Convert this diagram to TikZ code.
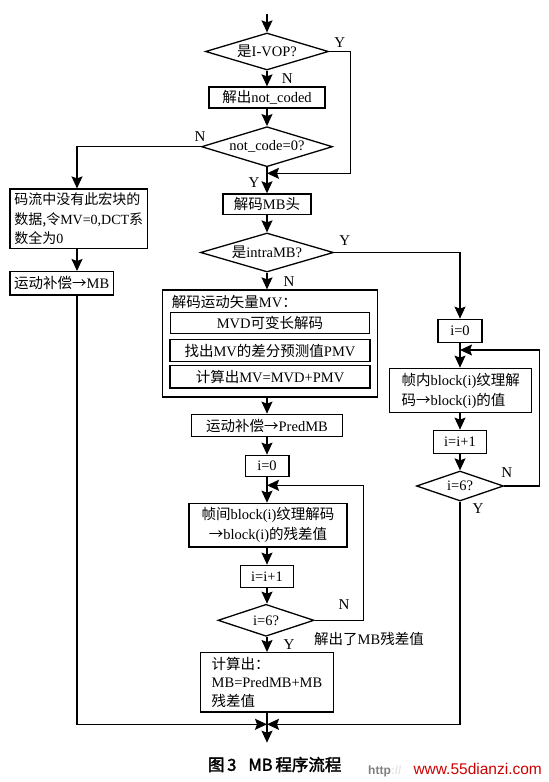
\documentclass[tikz,border=0pt]{standalone}
\usepackage{fontspec}
\setmainfont{Liberation Serif}
\newfontfamily\cjk{Noto Sans CJK SC}
\newfontfamily\cjkcap{Noto Sans CJK SC}[FakeBold=2]
\newfontfamily\wmfont{Liberation Sans}
\usetikzlibrary{arrows.meta,shapes.geometric}
\newcommand\zh[1]{{\cjk #1}}

\begin{document}
\begin{tikzpicture}[x=1pt,y=-1pt,
	box/.style={draw, line width=1.3pt, inner sep=2pt, font=\fontsize{14.5}{19}\selectfont},
	decision/.style={draw, diamond, aspect=3, inner sep=0pt, line width=1.3pt, font=\fontsize{14.5}{17}\selectfont},
	arr/.style={line width=1.3pt, -{Stealth[length=12pt,width=11pt,inset=2pt]}},
	ln/.style={line width=1.3pt},
	lab/.style={inner sep=0pt, font=\fontsize{15}{15}\selectfont}]
		%%%%% START %%%%%
		\useasboundingbox (0,0) rectangle (549,782);
		
		% main column
		\coordinate (start) at (267,14);
		\node[decision, minimum width=123pt, minimum height=37pt] (vop) at (267,51.5) {\zh{是}I-VOP?};
		\node[box, minimum width=116pt, minimum height=21pt] (nc) at (267,97.5) {\zh{解出}not\_coded};
		\node[decision, minimum width=131pt, minimum height=40pt] (ncz) at (267,146.7) {not\_code=0?};
		\node[box, minimum width=88pt, minimum height=20.5pt] (hdr) at (267,204.2) {\zh{解码}MB\zh{头}};
		\node[decision, minimum width=133pt, minimum height=39pt] (intra) at (267,252.5) {\zh{是}intraMB?};
		
		\node[box, minimum width=215pt, minimum height=107pt] (mvbox) at (269.8,343.5) {};
		\node[lab, anchor=west, font=\fontsize{14.5}{17}\selectfont] (mvt) at (171.7,301.7) {\zh{解码运动矢量}MV\zh{：}};
		\node[box, minimum width=199pt, minimum height=21pt] (mvd) at (270,322.8) {MVD\zh{可变长解码}};
		\node[box, minimum width=200pt, minimum height=22.4pt] (pmv) at (270,350.5) {\zh{找出}MV\zh{的差分预测值}PMV};
		\node[box, minimum width=200pt, minimum height=22.3pt] (mvsum) at (270,376.8) {\zh{计算出}MV=MVD+PMV};
		
		\node[box, minimum width=151pt, minimum height=22.4pt] (pred) at (267,425.5) {\zh{运动补偿→}PredMB};
		\node[box, minimum width=43.7pt, minimum height=21.4pt] (izero) at (267,466) {i=0};
		\node[box, minimum width=158pt, minimum height=43.7pt, align=center, font=\fontsize{14.5}{20}\selectfont] (inter) at (268,525.2) {\zh{帧间}block(i)\zh{纹理解码}\\\zh{→}block(i)\zh{的残差值}};
		\node[box, minimum width=53.3pt, minimum height=22.4pt] (inc) at (267,576.5) {i=i+1};
		\node[decision, minimum width=96pt, minimum height=32pt] (six) at (266,620.3) {i=6?};
		\node[box, minimum width=133.3pt, minimum height=59.3pt, align=left, font=\fontsize{14.5}{18.3}\selectfont] (res) at (267,682.3) {\zh{计算出：}\\MB=PredMB+MB\\\zh{残差值}};
		
		% left column
		\coordinate (lx) at (77,0);
		\node[box, minimum width=137.7pt, minimum height=59.3pt, align=left, font=\fontsize{14}{19.5}\selectfont] (nodata) at (78.8,218.7) {\zh{码流中没有此宏块的}\\\zh{数据,令}MV=0,DCT\zh{系}\\\zh{数全为}0};
		\node[box, minimum width=103.3pt, minimum height=23.3pt, align=left] (mcmb) at (61.7,283.3) {\zh{运动补偿→}MB};
		
		% right column
		\node[box, minimum width=44pt, minimum height=23pt] (izero2) at (460,330.8) {i=0};
		\node[box, minimum width=142pt, minimum height=44.4pt, align=left, font=\fontsize{14.5}{20}\selectfont] (intratx) at (460.7,390.5) {\zh{帧内}block(i)\zh{纹理解}\\\zh{码→}block(i)\zh{的值}};
		\node[box, minimum width=53.3pt, minimum height=23pt] (inc2) at (460,441.8) {i=i+1};
		\node[decision, minimum width=87pt, minimum height=30pt] (six2) at (460,486) {i=6?};
		
		% connectors
		\coordinate (vopr) at (350.7,173.3);
		\coordinate (vopin) at (267,173.3);
		\coordinate (lp1) at (363.3,485.3);
		\coordinate (lp1in) at (267,485.3);
		\coordinate (lp2) at (539.7,350);
		\coordinate (lp2in) at (460,350);
		\coordinate (join) at (267,724.3);
		\coordinate (stop) at (267,742.7);
		
		\draw[arr] (start) -- (vop.north);
		\draw[arr] (vop.south) -- (nc.north);
		\draw[ln] (vop.east) -| (vopr);
		\draw[arr] (vopr) -- (vopin);
		\draw[arr] (nc.south) -- (ncz.north);
		\draw[arr] (ncz.south) -- (hdr.north);
		\draw[arr] (ncz.west) -| (nodata.north -| lx);
		\draw[arr] (hdr.south) -- (intra.north);
		\draw[arr] (intra.east) -| (izero2.north);
		\draw[arr] (intra.south) -- (intra.south |- mvbox.north);
		\draw[arr] (mvbox.south -| pred) -- (pred.north);
		\draw[arr] (pred.south) -- (izero.north);
		\draw[arr] (izero.south) -- (inter.north -| izero);
		\draw[arr] (inter.south -| inc) -- (inc.north);
		\draw[arr] (inc.south) -- (inc.south |- six.north);
		\draw[ln] (six.east) -| (lp1);
		\draw[arr] (lp1) -- (lp1in);
		\draw[arr] (six.south -| res) -- (res.north);
		\draw[arr] (res.south) -- (stop);
		
		\draw[arr] (nodata.south -| lx) -- (mcmb.north -| lx);
		\draw[arr] (mcmb.south -| lx) |- (join);
		
		\draw[arr] (izero2.south) -- (intratx.north -| izero2);
		\draw[arr] (intratx.south -| inc2) -- (inc2.north);
		\draw[arr] (inc2.south) -- (six2.north);
		\draw[ln] (six2.east) -| (lp2);
		\draw[arr] (lp2) -- (lp2in);
		\draw[arr] (six2.south) |- (join);
		
		% Y / N labels
		\node[lab] (vopy) at (339.7,42.3) {Y};
		\node[lab] (vopn) at (287.3,78.3) {N};
		\node[lab] (nczn) at (200,136.7) {N};
		\node[lab] (nczy) at (254,182.7) {Y};
		\node[lab] (intray) at (344.7,240.7) {Y};
		\node[lab] (intran) at (289,281.7) {N};
		\node[lab] (sixn) at (344,604.3) {N};
		\node[lab] (sixy) at (289,644.3) {Y};
		\node[lab, anchor=west, font=\fontsize{14.5}{17}\selectfont] (resnote) at (314,639.3) {\zh{解出了}MB\zh{残差值}};
		\node[lab] (six2n) at (506.7,472.7) {N};
		\node[lab] (six2y) at (478,508.3) {Y};
		
		% caption
		\node[inner sep=0pt, font=\cjkcap\fontsize{16.5}{17}\selectfont] (cap) at (274.7,764.5) {图\,3\hspace{12pt}MB\,程序流程};
		\node[inner sep=0pt, anchor=base west, font=\wmfont\fontsize{15.5}{16}\selectfont] (wm) at (368,774) {{\fontsize{12}{12}\selectfont\bfseries\color{gray}http\color{gray!20}://}\hspace{12pt}\textcolor{red!80!black}{www.55dianzi.com}};
		
		%%%%% END %%%%%
\end{tikzpicture}
\end{document}
